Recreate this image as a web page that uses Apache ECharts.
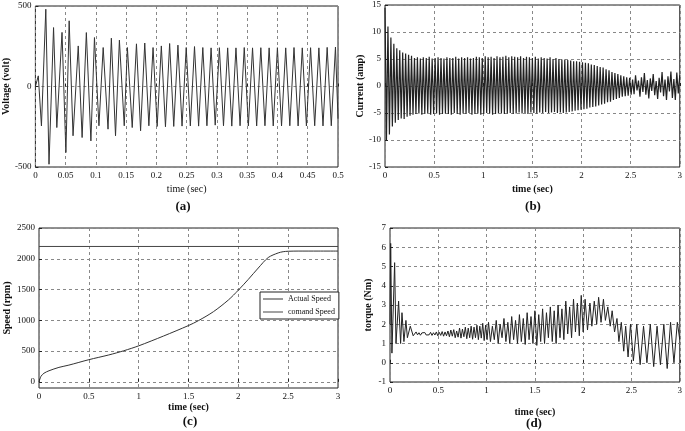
<!DOCTYPE html>
<html>
<head>
<meta charset="utf-8">
<script src="https://cdn.jsdelivr.net/npm/echarts@6/dist/echarts.min.js"></script>
<style>
  body { margin: 0; background: #fff; }
  #main { width: 685px; height: 431px; }
</style>
</head>
<body>
<div id="main"></div>
<script>
// (a) voltage, extrema
var voltT = [0, 0.0048, 0.010, 0.0172, 0.0225, 0.030, 0.0354, 0.044, 0.0504, 0.0558, 0.0622, 0.0708, 0.0772, 0.0842,
  0.0917, 0.0976, 0.105, 0.112, 0.120, 0.1255, 0.1324, 0.1388, 0.1468, 0.152, 0.160,
  0.167, 0.1738, 0.1807, 0.1875, 0.1944, 0.2012, 0.2081, 0.2149, 0.2218, 0.2286, 0.2355, 0.2423, 0.2492, 0.256,
  0.2629, 0.2697, 0.2766, 0.2834, 0.2903, 0.2971, 0.304, 0.3108, 0.3177, 0.3245, 0.3314, 0.3382, 0.3451, 0.3519,
  0.3588, 0.3656, 0.3725, 0.3793, 0.3862, 0.393, 0.3999, 0.4067, 0.4136, 0.4204, 0.4273, 0.4341, 0.441, 0.4478,
  0.4547, 0.4615, 0.4684, 0.4752, 0.4821, 0.4889, 0.4958, 0.5];
var voltV = [0, 66, -245, 480, -483, 366, -255, 336, -410, 408, -306, 252, -317, 335,
  -338, 304, -244, 242, -265, 300, -306, 288, -244, 242, -255,
  265, -275, 270, -244, 242, -248, 252, -250, 267, -248, 257, -246, 242, -245,
  248, -246, 242, -244, 240, -240, 241, -244, 240, -246, 240, -244, 242, -245,
  240, -245, 241, -244, 240, -245, 241, -245, 240, -244, 242, -245, 240, -245,
  241, -244, 240, -245, 243, -244, 245, -200];

// (b) current, one peak + one trough per cycle
var curStep = 0.03;
var curHi = [14.5, 11, 9, 7.8, 7, 6.6, 6.2, 6.0, 5.8, 5.6,
  5.2, 5.3, 5.1, 5.3, 5.2, 5.4, 5.1, 5.2, 5.3, 5.2,
  5.1, 5.3, 5.2, 5.2, 5.4, 5.1, 5.3, 5.2, 5.3, 5.1,
  5.2, 5.4, 5.3, 5.2, 5.5, 5.3, 5.4, 5.2, 5.5, 5.3,
  5.4, 5.6, 5.3, 5.5, 5.4, 5.3, 5.5, 5.2, 5.4, 5.3,
  5.2, 5.4, 5.1, 5.3, 5.2, 5.1, 5.3, 5.0, 5.2, 5.0,
  4.9, 4.9, 4.8, 4.7, 4.6, 4.6, 4.5, 4.4, 4.3, 4.2,
  4.0, 3.9, 3.7, 3.5, 3.4, 3.1, 2.9, 2.6, 2.4, 2.2,
  2.0, 1.8, 1.6, 1.5,
  1.2, 2.0, 1.0, 1.6, 2.4, 1.1, 1.4, 2.2, 0.9, 1.5, 2.6, 1.2, 1.8, 2.7, 1.3, 2.5, 2.0];
var curLo = [-10, -9, -7.5, -6.8, -6.3, -6.0, -6.1, -5.7, -5.5, -5.3,
  -5.2, -5.1, -5.3, -5.2, -5.0, -5.3, -5.2, -5.1, -5.3, -5.2,
  -5.1, -5.2, -5.3, -5.0, -5.2, -5.3, -5.1, -5.2, -5.0, -5.3,
  -5.2, -5.1, -5.3, -5.2, -5.0, -5.1, -5.3, -5.2, -5.1, -5.0,
  -5.2, -5.1, -5.0, -5.2, -5.1, -4.9, -5.1, -5.0, -5.2, -4.9,
  -5.0, -5.1, -4.9, -5.0, -4.8, -5.0, -4.9, -4.8, -5.0, -4.9,
  -5.0, -4.9, -4.8, -4.7, -4.6, -4.5, -4.4, -4.3, -4.2, -4.0,
  -3.9, -3.8, -3.6, -3.4, -3.3, -3.0, -2.9, -2.6, -2.4, -2.2,
  -2.0, -1.9, -1.8, -1.6,
  -1.5, -0.8, -2.0, -1.1, -1.6, -2.3, -0.9, -1.7, -2.4, -1.2, -1.9, -2.6, -1.0, -2.2, -2.6, -1.4];

// (c) speed
var speedT = [0, 0.02, 0.05, 0.1, 0.2, 0.3, 0.5, 0.7, 0.85, 1.0, 1.25, 1.5, 1.6, 1.75, 1.9, 2.0, 2.1, 2.2, 2.3, 2.4, 2.45, 2.5, 2.6, 2.8, 3.0];
var speedV = [0, 90, 140, 180, 235, 272, 360, 437, 505, 585, 745, 915, 995, 1140, 1330, 1490, 1665, 1850, 2020, 2095, 2115, 2122, 2125, 2125, 2125];
var commandT = [0, 3];
var commandV = [2200, 2200];
var speedTicks = [0, 500, 1000, 1500, 2000, 2500];

// (d) torque
var torqueT = [0, 0.007, 0.02, 0.048, 0.062, 0.089, 0.11, 0.124, 0.144, 0.165, 0.18, 0.21, 0.24, 0.27,
  0.285, 0.3, 0.315, 0.33, 0.345, 0.36, 0.375, 0.39, 0.405, 0.42, 0.435, 0.45, 0.465, 0.48, 0.495, 0.51, 0.525, 0.54, 0.555, 0.57, 0.585, 0.6,
  0.615, 0.63, 0.645, 0.66, 0.675, 0.69, 0.705, 0.72, 0.735, 0.75, 0.765, 0.78, 0.795, 0.81, 0.825, 0.84, 0.855, 0.87, 0.885, 0.9, 0.915, 0.93, 0.945, 0.96, 0.975, 0.99, 1.005,
  1.02, 1.04, 1.06, 1.08, 1.1, 1.12, 1.14, 1.16, 1.18, 1.2, 1.22, 1.24, 1.26, 1.28, 1.3, 1.32, 1.34, 1.36, 1.38, 1.4,
  1.42, 1.44, 1.46, 1.48, 1.5, 1.52, 1.54, 1.56, 1.58, 1.6, 1.62, 1.64, 1.66, 1.68, 1.7, 1.72, 1.74, 1.76, 1.78, 1.8,
  1.82, 1.84, 1.86, 1.88, 1.9, 1.92, 1.94, 1.96, 1.98, 2.0,
  2.02, 2.045, 2.07, 2.09, 2.115, 2.14, 2.16, 2.185, 2.21, 2.23, 2.255, 2.28, 2.3, 2.325, 2.35, 2.37, 2.395, 2.42, 2.44, 2.465, 2.49,
  2.52, 2.555, 2.59, 2.625, 2.66, 2.695, 2.73, 2.765, 2.8, 2.835, 2.87, 2.905, 2.94, 2.975, 3.0];
var torqueV = [2.0, 6.2, 0.5, 5.2, 1.0, 3.2, 1.0, 2.6, 1.1, 2.2, 1.3, 1.9, 1.4, 1.6,
  1.45, 1.56, 1.43, 1.55, 1.46, 1.57, 1.44, 1.54, 1.45, 1.58, 1.42, 1.56, 1.44, 1.6, 1.4, 1.58, 1.42, 1.62, 1.38, 1.6, 1.4, 1.65,
  1.35, 1.7, 1.38, 1.72, 1.3, 1.65, 1.33, 1.8, 1.28, 1.75, 1.35, 1.85, 1.25, 1.8, 1.3, 1.9, 1.22, 1.85, 1.3, 1.95, 1.2, 1.9, 1.28, 2.05, 1.15, 1.95, 1.2,
  2.1, 1.1, 1.9, 1.2, 2.2, 1.0, 2.0, 1.3, 2.3, 1.1, 2.1, 1.0, 2.4, 1.2, 2.2, 1.0, 2.5, 1.1, 2.3, 0.95,
  2.6, 1.2, 2.4, 1.0, 2.7, 0.9, 2.5, 1.1, 2.8, 1.0, 2.6, 1.3, 2.9, 1.1, 2.7, 1.0, 3.0, 1.3, 2.8, 1.2,
  3.2, 1.5, 2.9, 1.3, 3.3, 1.6, 3.1, 1.4, 3.5, 1.6,
  3.3, 1.7, 3.1, 1.9, 3.2, 2.0, 3.4, 2.1, 3.3, 2.2, 2.9, 1.9, 2.7, 1.6, 2.3, 1.1, 2.1, 0.6, 1.9, 0.3, 2.0,
  0.1, 2.0, -0.1, 1.9, 0.0, 2.0, -0.2, 1.9, -0.1, 2.0, -0.3, 2.1, 0.0, 2.1, 1.2];

function pairs(xs, ys) {
  var out = [];
  for (var i = 0; i < xs.length && i < ys.length; i++) out.push([xs[i], ys[i]]);
  return out;
}
var curData = [];
for (var k = 0; k < curHi.length; k++) {
  curData.push([k * curStep, curHi[k]]);
  if (k < curLo.length) curData.push([k * curStep + curStep / 2, curLo[k]]);
}

var serif = 'Liberation Serif';
var tickFont = { fontFamily: serif, fontSize: 9, color: '#111', margin: 4, formatter: function (v) { return String(v); } };
var gridLine = { show: true, lineStyle: { color: '#888', type: [3, 3], width: 1 } };
var tick = { show: true, inside: true, length: 3, lineStyle: { color: '#222' } };
function nameFont(bold, size) {
  return { fontFamily: serif, fontSize: size || 10, fontWeight: bold ? 'bold' : 'normal', color: '#111' };
}
function xAx(idx, max, interval, gap, bold) {
  return {
    type: 'value', gridIndex: idx, min: 0, max: max, interval: interval,
    name: 'time (sec)', nameLocation: 'middle', nameGap: gap, nameTextStyle: nameFont(bold),
    axisLine: { show: false }, axisTick: tick, splitLine: gridLine, axisLabel: tickFont
  };
}
function yAx(idx, min, max, interval, name, gap) {
  return {
    type: 'value', gridIndex: idx, min: min, max: max, interval: interval,
    name: name, nameLocation: 'middle', nameGap: gap, nameTextStyle: nameFont(true),
    axisLine: { show: false }, axisTick: tick, splitLine: gridLine, axisLabel: tickFont
  };
}
var frame = { show: true, borderColor: '#222', borderWidth: 1, backgroundColor: 'transparent' };

var speedY = yAx(2, -100, 2500, null, 'Speed (rpm)', 27);
delete speedY.interval;
speedY.splitNumber = 5;
speedY.axisLabel = Object.assign({}, tickFont, { customValues: speedTicks });
speedY.axisTick = Object.assign({}, tick, { customValues: speedTicks });

function panelTitle(text, x, y) {
  return { text: text, left: x, top: y, padding: 0, textAlign: 'center', textStyle: nameFont(true, 13) };
}

var chart = echarts.init(document.getElementById('main'));
chart.setOption({
  animation: false,
  backgroundColor: '#fff',
  title: [
    panelTitle('(a)', 183, 200),
    panelTitle('(b)', 533, 200),
    panelTitle('(c)', 190, 415),
    panelTitle('(d)', 534, 417)
  ],
  legend: {
    data: ['Actual Speed', 'comand Speed'],
    orient: 'vertical', left: 260, top: 292,
    itemWidth: 20, itemHeight: 1, itemGap: 5, icon: 'rect',
    padding: [3, 4, 3, 3],
    borderColor: '#222', borderWidth: 1, backgroundColor: '#fff',
    textStyle: { fontFamily: serif, fontSize: 8, color: '#111' }
  },
  grid: [
    Object.assign({ left: 27, top: 6, width: 311, height: 161 }, frame),
    Object.assign({ left: 385, top: 5, width: 295, height: 162 }, frame),
    Object.assign({ left: 39, top: 228, width: 299, height: 160 }, frame),
    Object.assign({ left: 390, top: 228, width: 292, height: 154 }, frame)
  ],
  xAxis: [
    xAx(0, 0.5, 0.05, 17, false),
    xAx(1, 3, 0.5, 17, true),
    xAx(2, 3, 0.5, 14, true),
    xAx(3, 3, 0.5, 25, true)
  ],
  yAxis: [
    yAx(0, -500, 500, 500, 'Voltage (volt)', 15),
    yAx(1, -15, 15, 5, 'Current (amp)', 16),
    speedY,
    yAx(3, -1, 7, 1, 'torque (Nm)', 17)
  ],
  series: [
    { type: 'line', xAxisIndex: 0, yAxisIndex: 0, data: pairs(voltT, voltV), showSymbol: false, symbol: 'none',
      lineStyle: { color: '#333', width: 1 } },
    { type: 'line', xAxisIndex: 1, yAxisIndex: 1, data: curData, showSymbol: false, symbol: 'none',
      lineStyle: { color: '#222', width: 1.2 } },
    { name: 'Actual Speed', type: 'line', xAxisIndex: 2, yAxisIndex: 2, data: pairs(speedT, speedV), smooth: 0.3,
      showSymbol: false, symbol: 'none', itemStyle: { color: '#333' }, lineStyle: { color: '#333', width: 1 } },
    { name: 'comand Speed', type: 'line', xAxisIndex: 2, yAxisIndex: 2, data: pairs(commandT, commandV),
      showSymbol: false, symbol: 'none', itemStyle: { color: '#444' }, lineStyle: { color: '#444', width: 1 } },
    { type: 'line', xAxisIndex: 3, yAxisIndex: 3, data: pairs(torqueT, torqueV), showSymbol: false, symbol: 'none',
      lineStyle: { color: '#222', width: 1 } }
  ]
});
</script>
</body>
</html>
